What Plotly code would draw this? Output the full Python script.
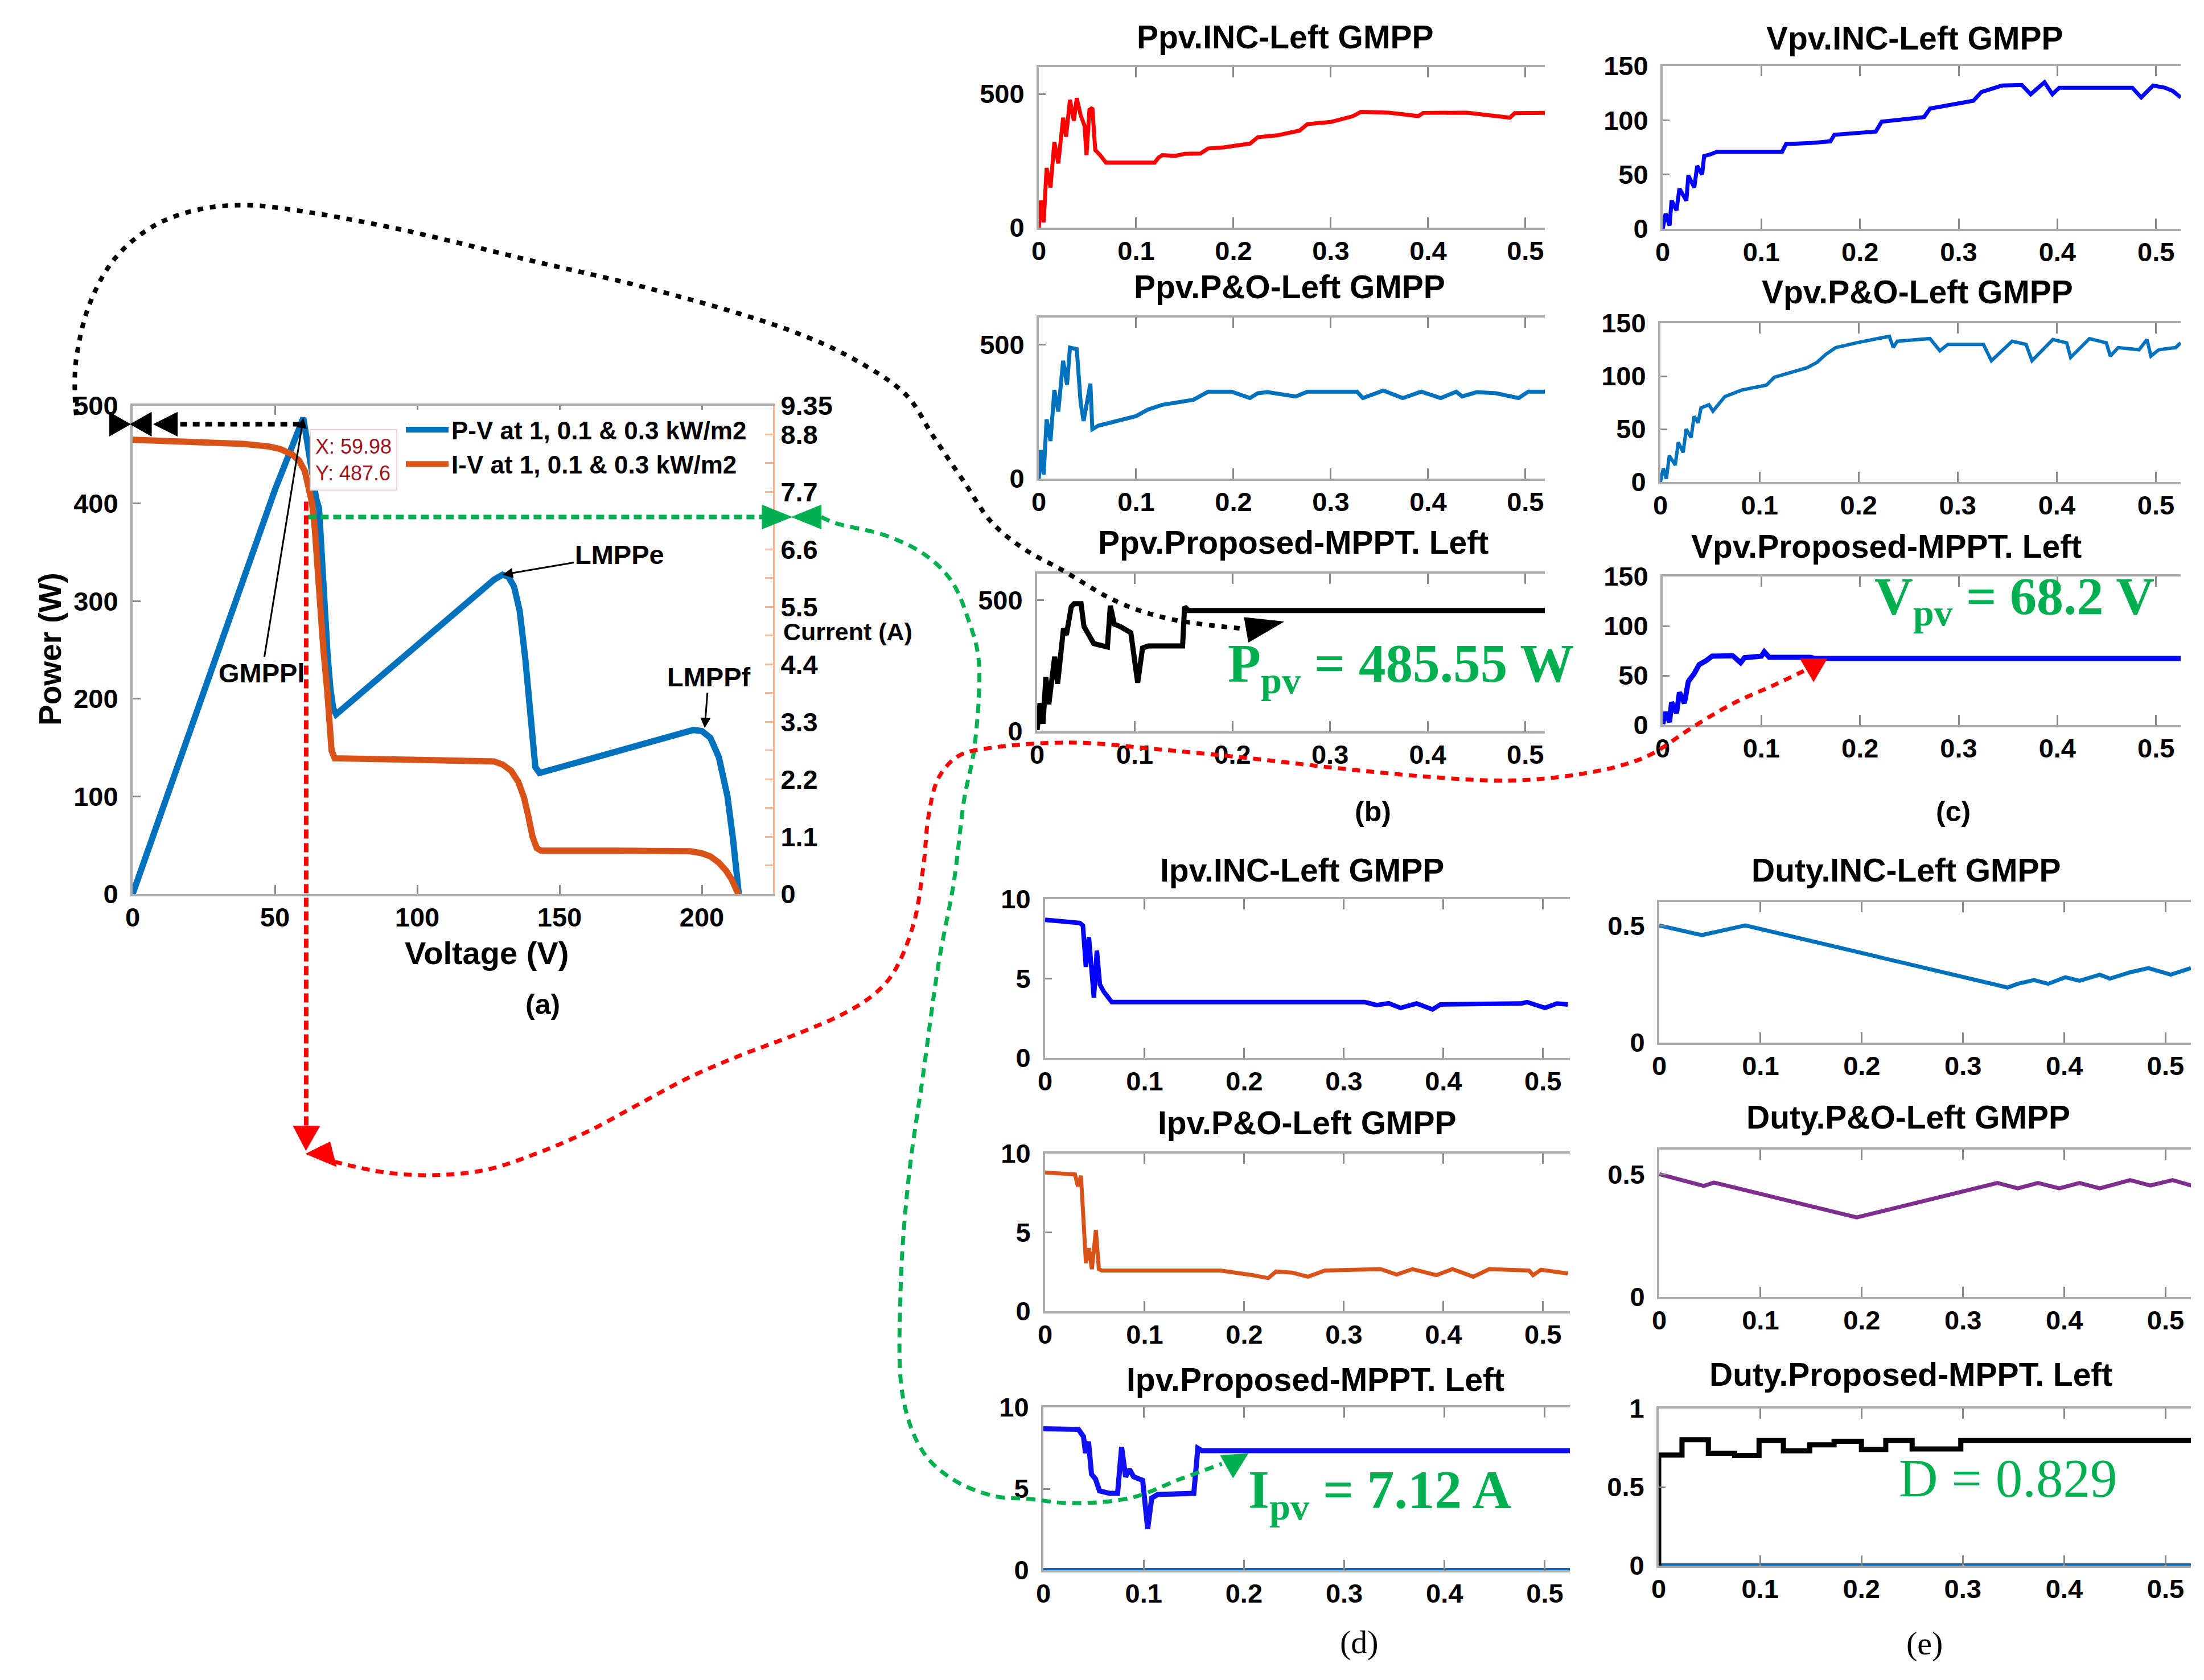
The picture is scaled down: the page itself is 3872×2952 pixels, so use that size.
import plotly.graph_objects as go

W, H = 3872, 2952

# ---------------- (a) P-V and I-V characteristic ----------------
pv_voltage = [0, 30, 50, 56, 58.5, 59.98, 61.5, 63, 64.5, 65.5, 66.5, 67.5, 68.5, 69.5, 70.5, 71.5,
              100, 120, 127, 130, 132, 134, 136, 138, 140, 141.5, 143, 170, 190, 197, 200, 203, 206, 209, 211, 212.5, 213]
pv_power = [0, 250, 414, 458, 478, 487.6, 460, 430, 405, 395, 340, 290, 245, 210, 190, 184,
            255, 304, 322, 327, 325, 315, 290, 240, 170, 130, 124, 146, 162, 168, 167, 160, 140, 100, 55, 5, 0]
iv_voltage = [0, 20, 39, 48, 52, 56, 58.5, 60.5, 62, 63, 64, 65.3, 67, 68.4, 69.9, 71, 100, 122.8, 127, 130,
              133, 135.5, 137.5, 139, 140.5, 142, 143.5, 170, 196, 200, 203, 206, 208.5, 210.5, 212.8]
iv_current = [8.70, 8.67, 8.62, 8.57, 8.52, 8.42, 8.30, 8.10, 7.80, 7.50, 7.00, 5.85, 4.70, 3.88, 2.75, 2.60, 2.58,
              2.57, 2.54, 2.48, 2.36, 2.15, 1.85, 1.50, 1.10, 0.88, 0.83, 0.83, 0.82, 0.78, 0.72, 0.60, 0.45, 0.28, 0.0]
gmpp_point = (59.98, 487.6)
lmppe_point = (130, 327)
lmppf_point = (201, 170)
voltage_ticks = [0, 50, 100, 150, 200]
power_ticks = [0, 100, 200, 300, 400, 500]
current_tick_vals = [0, 0.55, 1.1, 1.65, 2.2, 2.75, 3.3, 3.85, 4.4, 4.95, 5.5, 6.05, 6.6, 7.15, 7.7, 8.25, 8.8, 9.35]
current_tick_text = ['0', '', '1.1', '', '2.2', '', '3.3', '', '4.4', '', '5.5', '', '6.6', '', '7.7', '', '8.8', '9.35']

# ---------------- (b) PV power ----------------
t_ppv_inc = [0, 0.002, 0.005, 0.008, 0.012, 0.016, 0.020, 0.025, 0.028, 0.032, 0.036, 0.039, 0.043, 0.047, 0.049,
             0.052, 0.055, 0.058, 0.063, 0.069, 0.119, 0.123, 0.127, 0.140, 0.150, 0.166, 0.174, 0.190, 0.205, 0.217,
             0.225, 0.245, 0.268, 0.276, 0.300, 0.323, 0.331, 0.360, 0.390, 0.395, 0.440, 0.484, 0.489, 0.52]
ppv_inc = [0, 101, 20, 223, 150, 320, 240, 411, 340, 478, 400, 484, 420, 381, 271,
           440, 448, 290, 271, 243, 243, 262, 271, 268, 276, 277, 296, 300, 308, 314,
           338, 345, 363, 387, 395, 417, 433, 430, 417, 429, 430, 411, 428, 429]
t_ppv_po = [0, 0.002, 0.005, 0.008, 0.012, 0.016, 0.020, 0.025, 0.029, 0.032, 0.039, 0.043, 0.046, 0.049, 0.053,
            0.055, 0.061, 0.100, 0.112, 0.127, 0.159, 0.174, 0.198, 0.217, 0.225, 0.235, 0.264, 0.276, 0.327, 0.333,
            0.354, 0.374, 0.393, 0.413, 0.429, 0.435, 0.450, 0.470, 0.493, 0.503, 0.52]
ppv_po = [0, 106, 15, 221, 140, 330, 250, 439, 350, 488, 482, 282, 215, 282, 354,
          184, 197, 233, 257, 275, 294, 324, 324, 300, 318, 322, 306, 324, 324, 300,
          328, 300, 324, 300, 324, 306, 322, 318, 300, 324, 324]
t_ppv_prop = [0, 0.003, 0.006, 0.009, 0.012, 0.018, 0.021, 0.027, 0.030, 0.035, 0.038, 0.045, 0.048, 0.054,
              0.058, 0.072, 0.075, 0.079, 0.085, 0.096, 0.103, 0.108, 0.114, 0.149, 0.151, 0.155, 0.522]
ppv_prop = [5, 107, 29, 206, 103, 284, 181, 391, 367, 474, 486, 486, 399, 362,
            334, 321, 478, 408, 399, 375, 185, 317, 325, 325, 474, 460, 460]

# ---------------- (c) PV voltage ----------------
t_vpv_inc = [0, 0.003, 0.007, 0.009, 0.014, 0.017, 0.024, 0.026, 0.032, 0.035, 0.040, 0.042, 0.048, 0.055, 0.121,
             0.125, 0.150, 0.170, 0.174, 0.216, 0.222, 0.265, 0.271, 0.315, 0.323, 0.344, 0.364, 0.373, 0.387,
             0.395, 0.402, 0.476, 0.485, 0.497, 0.509, 0.517, 0.525]
vpv_inc = [0, 14, 3, 26, 17, 37, 26, 49, 38, 58, 50, 67, 68.5, 71, 71,
           78, 79, 80.6, 86.6, 89.6, 98.7, 103, 110.8, 118, 126, 132, 132.5, 124, 135,
           124, 130, 130, 121, 132, 130, 127, 121]
t_vpv_po = [0, 0.003, 0.006, 0.009, 0.015, 0.018, 0.023, 0.026, 0.031, 0.034, 0.038, 0.041, 0.049, 0.053, 0.065,
            0.082, 0.107, 0.115, 0.148, 0.158, 0.167, 0.177, 0.198, 0.222, 0.231, 0.235, 0.239, 0.272, 0.282,
            0.290, 0.326, 0.334, 0.355, 0.369, 0.375, 0.396, 0.410, 0.414, 0.433, 0.450, 0.454, 0.462, 0.483,
            0.491, 0.495, 0.503, 0.520, 0.525]
vpv_po = [0, 13, 3, 25, 16, 37.6, 28, 50, 42, 62, 56, 70, 73, 67, 80.7,
          86.9, 91.5, 99, 108, 113, 120.7, 127, 131.5, 136, 137.7, 127, 133, 135.5, 124,
          130, 130, 114.6, 133, 130, 114.6, 134.6, 131.5, 117.7, 135.5, 131.5, 119, 127, 125,
          134.6, 119, 125, 127, 131.5]
t_vpv_prop = [0, 0.003, 0.007, 0.009, 0.014, 0.017, 0.022, 0.026, 0.032, 0.037, 0.044, 0.050, 0.071, 0.079,
              0.083, 0.100, 0.103, 0.108, 0.150, 0.154, 0.525]
vpv_prop = [1, 13, 3, 23, 12, 33, 22, 44, 52, 61, 65, 69.5, 70, 63,
            68, 69.5, 74, 68.4, 68.4, 67.3, 67.3]

# ---------------- (d) PV current ----------------
t_ipv_inc = [0, 0.035, 0.038, 0.041, 0.044, 0.047, 0.049, 0.052, 0.055, 0.059, 0.067, 0.321, 0.333, 0.345,
             0.357, 0.373, 0.389, 0.397, 0.478, 0.484, 0.502, 0.514, 0.525]
ipv_inc = [8.7, 8.5, 8.33, 5.74, 7.6, 5.74, 3.8, 6.76, 4.63, 4.17, 3.52, 3.52, 3.33, 3.45,
           3.15, 3.43, 3.06, 3.37, 3.43, 3.52, 3.15, 3.43, 3.37]
t_ipv_po = [0, 0.030, 0.033, 0.036, 0.039, 0.041, 0.044, 0.047, 0.051, 0.054, 0.057, 0.176, 0.208, 0.224, 0.232,
            0.248, 0.264, 0.281, 0.337, 0.353, 0.369, 0.393, 0.409, 0.430, 0.446, 0.486, 0.490, 0.498, 0.525]
ipv_po = [8.8, 8.68, 7.92, 8.59, 5.34, 3.05, 4.0, 2.67, 5.15, 2.67, 2.58, 2.58, 2.29, 2.1, 2.52,
          2.45, 2.19, 2.58, 2.67, 2.33, 2.67, 2.29, 2.67, 2.19, 2.67, 2.58, 2.29, 2.63, 2.39]
t_ipv_prop = [0, 0.035, 0.040, 0.042, 0.045, 0.048, 0.052, 0.056, 0.066, 0.074, 0.078, 0.082, 0.086, 0.090,
              0.099, 0.104, 0.108, 0.114, 0.150, 0.154, 0.158, 0.525]
ipv_prop = [8.69, 8.65, 8.2, 7.2, 7.9, 5.9, 5.6, 4.87, 4.72, 4.72, 7.56, 5.74, 6.18, 5.74,
            5.52, 2.54, 4.43, 4.65, 4.72, 7.49, 7.34, 7.34]

# ---------------- (e) duty cycle ----------------
t_duty_inc = [0, 0.042, 0.085, 0.344, 0.354, 0.370, 0.384, 0.401, 0.415, 0.435, 0.445, 0.465, 0.483, 0.505, 0.525]
duty_inc = [0.5, 0.459, 0.5, 0.235, 0.251, 0.267, 0.251, 0.279, 0.264, 0.29, 0.273, 0.30, 0.318, 0.29, 0.318]
t_duty_po = [0, 0.044, 0.054, 0.195, 0.334, 0.354, 0.374, 0.395, 0.415, 0.435, 0.465, 0.485, 0.507, 0.527]
duty_po = [0.5, 0.452, 0.466, 0.324, 0.464, 0.442, 0.464, 0.442, 0.464, 0.442, 0.476, 0.454, 0.476, 0.452]
t_duty_prop = [0, 0, 0.023, 0.049, 0.075, 0.099, 0.123, 0.149, 0.173, 0.200, 0.224, 0.250, 0.298, 0.525]
duty_prop = [0, 0.704, 0.802, 0.716, 0.701, 0.796, 0.731, 0.769, 0.792, 0.739, 0.796, 0.743, 0.796, 0.796]
t_baseline = [0, 0.525]
baseline = [0, 0]

time_ticks = [0, 0.1, 0.2, 0.3, 0.4, 0.5]
time_tick_text = ['0', '0.1', '0.2', '0.3', '0.4', '0.5']

# ---------------- connector curves (drawn in a 1568x1195 overlay frame) ----------------
black_curve_x = [51, 50, 51, 60.5, 79, 107, 139.5, 172, 209, 279, 372, 465, 558, 604.5, 641.7, 660, 683.6, 702, 725, 752, 792, 829, 882]
black_curve_y = [292, 276, 252, 213, 180, 157, 145.5, 142.7, 146.6, 159.4, 181.5, 203.6, 231.5, 252.4, 278, 306, 341, 368, 387, 402, 425, 437, 444]
green_curve_x = [581, 590.6, 627.8, 655.7, 674, 686, 693, 690, 682.7, 675.5, 664.6, 653.8, 643, 637.5, 639.3, 653.8, 675.5, 704.4, 729, 759, 802, 836, 866]
green_curve_y = [364.5, 368.7, 378, 392, 410.5, 438.4, 466, 528.4, 565.3, 623.4, 681.5, 759, 836.5, 914, 991.5, 1030, 1049.6, 1061, 1063, 1066, 1062, 1049, 1038]
red_curve_x = [234.3, 270.5, 306.6, 342.8, 379, 415, 451, 487.4, 523.6, 559.8, 596, 617.6, 632, 646.6, 653.8, 657.4, 664.6, 679, 704.4,
               761, 823, 885, 947, 1009, 1071, 1117, 1151, 1172, 1201, 1230, 1259, 1280]
red_curve_y = [823, 830.7, 832.6, 828.8, 817, 801.6, 782.3, 763, 747.4, 733.8, 718.3, 704.8, 689.3, 654.4, 611.8, 576.9, 549.8, 534.3, 528.4,
               525, 530, 536, 543, 549, 552, 548, 541, 533, 514, 497, 484, 474]

fig = go.Figure()

AXC = '#ABABAB'
TKC = '#8A8A8A'
SANS = 'Liberation Sans, Arial, sans-serif'
SERIF = 'Liberation Serif, Times New Roman, serif'
TF = dict(family=SANS, size=47, color='black', weight='bold')


def dom(x0, x1, y0, y1):
    return [x0 / W, x1 / W], [1 - y1 / H, 1 - y0 / H]


def note(text, xpx, ypx, font, **kw):
    d = dict(text=text, x=xpx / W, y=1 - ypx / H, xref='paper', yref='paper', showarrow=False,
             xanchor='center', yanchor='middle', font=font)
    d.update(kw)
    return d


layout = dict(width=W, height=H, margin=dict(l=0, r=0, t=0, b=0, pad=0), paper_bgcolor='white',
              plot_bgcolor='rgba(0,0,0,0)', font=dict(family=SANS, color='black'))
annotations = []

# ---- panel (a) axes ----
dx, dy = dom(225, 1350, 705, 1563)
layout['xaxis'] = dict(domain=dx, range=[0, 225], anchor='y', showline=True, linecolor=AXC, linewidth=4,
                       mirror='ticks', ticks='inside', ticklen=16, tickwidth=3, tickcolor=TKC,
                       tickvals=voltage_ticks, tickfont=TF, showgrid=False, zeroline=False,
                       ticklabelstandoff=-3, automargin=False)
layout['yaxis'] = dict(domain=dy, range=[0, 500], anchor='x', showline=True, linecolor=AXC, linewidth=4,
                       ticks='inside', ticklen=14, tickwidth=3, tickcolor=TKC, tickvals=power_ticks,
                       tickfont=TF, showgrid=False, zeroline=False, ticklabelstandoff=12, automargin=False)
layout['yaxis14'] = dict(overlaying='y', side='right', anchor='x', range=[0, 9.35], showline=True,
                         linecolor='#F4B99B', linewidth=4, ticks='inside', ticklen=14, tickwidth=3,
                         tickcolor='#F4B99B', tickvals=current_tick_vals, ticktext=current_tick_text,
                         tickfont=TF, showgrid=False, zeroline=False, ticklabelstandoff=0, automargin=False)

fig.add_trace(go.Scatter(x=pv_voltage, y=pv_power, mode='lines', xaxis='x', yaxis='y',
                         line=dict(color='#0072BD', width=11), name='P-V at 1, 0.1 & 0.3 kW/m2'))
fig.add_trace(go.Scatter(x=iv_voltage, y=iv_current, mode='lines', xaxis='x', yaxis='y14',
                         line=dict(color='#D95319', width=11), name='I-V at 1, 0.1 & 0.3 kW/m2'))

annotations += [
    note('Voltage (V)', 847, 1666, dict(size=56, weight='bold')),
    note('Power (W)', 80, 1133, dict(size=55, weight='bold'), textangle=-90),
    note('Current (A)', 1481, 1102, dict(size=43, weight='bold')),
    note('X: 59.98<br>Y: 487.6', 613, 800, dict(size=36, color='#A0141E'), align='left', bgcolor='white',
         bordercolor='#F2D4D4', borderwidth=2, borderpad=8),
    dict(text='GMPPl', x=gmpp_point[0], y=gmpp_point[1], xref='x', yref='y', ax=-73, ay=448,
         showarrow=True, arrowhead=2, arrowsize=1.2, arrowwidth=3, arrowcolor='black',
         font=dict(size=47, weight='bold')),
    dict(text='LMPPe', x=lmppe_point[0], y=lmppe_point[1], xref='x', yref='y', ax=205, ay=-35,
         showarrow=True, arrowhead=2, arrowsize=1.2, arrowwidth=3, arrowcolor='black',
         font=dict(size=47, weight='bold')),
    dict(text='LMPPf', x=lmppf_point[0], y=lmppf_point[1], xref='x', yref='y', ax=7, ay=-90,
         showarrow=True, arrowhead=2, arrowsize=1.2, arrowwidth=3, arrowcolor='black',
         font=dict(size=47, weight='bold')),
]

# ---- small panels ----
panels = [
    dict(t=t_ppv_inc, v=ppv_inc, c='#FF0000', w=7, box=(1817, 2706, 110, 392), xr=[0, 0.52], yr=[0, 600],
         yt=[0, 500], title='Ppv.INC-Left GMPP', tx=2249, ty=66),
    dict(t=t_ppv_po, v=ppv_po, c='#0072BD', w=7, box=(1817, 2706, 550, 833), xr=[0, 0.52], yr=[0, 600],
         yt=[0, 500], title='Ppv.P&O-Left GMPP', tx=2257, ty=505),
    dict(t=t_ppv_prop, v=ppv_prop, c='black', w=9, box=(1814, 2706, 1000, 1277), xr=[0, 0.52], yr=[0, 600],
         yt=[0, 500], title='Ppv.Proposed-MPPT. Left', tx=2264, ty=954),
    dict(t=t_vpv_inc, v=vpv_inc, c='#0000FF', w=7, box=(2913, 3823, 108, 394), xr=[0, 0.525], yr=[0, 150],
         yt=[0, 50, 100, 150], title='Vpv.INC-Left GMPP', tx=3355, ty=68),
    dict(t=t_vpv_po, v=vpv_po, c='#0072BD', w=6, box=(2909, 3823, 560, 839), xr=[0, 0.525], yr=[0, 150],
         yt=[0, 50, 100, 150], title='Vpv.P&O-Left GMPP', tx=3360, ty=514),
    dict(t=t_vpv_prop, v=vpv_prop, c='#0000FF', w=9, box=(2913, 3823, 1005, 1266), xr=[0, 0.525], yr=[0, 150],
         yt=[0, 50, 100, 150], title='Vpv.Proposed-MPPT. Left', tx=3306, ty=961),
    dict(t=t_ipv_inc, v=ipv_inc, c='#0000FF', w=8, box=(1828, 2750, 1572, 1851), xr=[0, 0.527], yr=[0, 10],
         yt=[0, 5, 10], title='Ipv.INC-Left GMPP', tx=2279, ty=1530),
    dict(t=t_ipv_po, v=ipv_po, c='#D95319', w=7, box=(1828, 2750, 2019, 2296), xr=[0, 0.527], yr=[0, 10],
         yt=[0, 5, 10], title='Ipv.P&O-Left GMPP', tx=2288, ty=1974),
    dict(t=t_ipv_prop, v=ipv_prop, c='#1010F0', w=9, box=(1825, 2750, 2465, 2751), xr=[0, 0.525], yr=[0, 10],
         yt=[0, 5, 10], title='Ipv.Proposed-MPPT. Left', tx=2303, ty=2425, base=True),
    dict(t=t_duty_inc, v=duty_inc, c='#0072BD', w=7, box=(2907, 3841, 1577, 1824), xr=[0, 0.525], yr=[0, 0.6],
         yt=[0, 0.5], title='Duty.INC-Left GMPP', tx=3341, ty=1530),
    dict(t=t_duty_po, v=duty_po, c='#7E2F8E', w=7, box=(2907, 3841, 2012, 2271), xr=[0, 0.525], yr=[0, 0.6],
         yt=[0, 0.5], title='Duty.P&O-Left GMPP', tx=3344, ty=1964),
    dict(t=t_duty_prop, v=duty_prop, c='black', w=9, box=(2906, 3841, 2467, 2743), xr=[0, 0.525], yr=[0, 1],
         yt=[0, 0.5, 1], title='Duty.Proposed-MPPT. Left', tx=3349, ty=2416, base=True, shape='hv'),
]

for i, p in enumerate(panels):
    k = i + 2
    dx, dy = dom(*p['box'])
    layout[f'xaxis{k}'] = dict(domain=dx, range=p['xr'], anchor=f'y{k}', showline=True, linecolor=AXC,
                               linewidth=4, mirror='ticks', ticks='inside', ticklen=18, tickwidth=3,
                               tickcolor=TKC, tickvals=time_ticks, ticktext=time_tick_text, tickfont=TF,
                               showgrid=False, zeroline=False, ticklabelstandoff=-3, automargin=False)
    layout[f'yaxis{k}'] = dict(domain=dy, range=p['yr'], anchor=f'x{k}', showline=True, linecolor=AXC,
                               linewidth=4, ticks='inside', ticklen=12, tickwidth=3, tickcolor=TKC,
                               tickvals=p['yt'], tickfont=TF, showgrid=False, zeroline=False,
                               ticklabelstandoff=12, automargin=False)
    if p.get('base'):
        fig.add_trace(go.Scatter(x=t_baseline, y=baseline, mode='lines', xaxis=f'x{k}', yaxis=f'y{k}',
                                 line=dict(color='#1A63A8', width=8), showlegend=False, hoverinfo='skip'))
    fig.add_trace(go.Scatter(x=p['t'], y=p['v'], mode='lines', xaxis=f'x{k}', yaxis=f'y{k}',
                             line=dict(color=p['c'], width=p['w'], shape=p.get('shape', 'linear')),
                             showlegend=False, hoverinfo='skip'))
    annotations.append(note(p['title'], p['tx'], p['ty'] - 9, dict(size=57, weight='bold')))

# ---- green value call-outs and panel letters ----
GREEN = '#00B050'
annotations += [
    note('P<sub>pv</sub> = 485.55 W', 2453, 1164, dict(family=SERIF, size=95, color=GREEN, weight='bold')),
    note('V<sub>pv</sub> = 68.2 V', 3531, 1046, dict(family=SERIF, size=94, color=GREEN, weight='bold')),
    note('I<sub>pv</sub> = 7.12 A', 2416, 2616, dict(family=SERIF, size=95, color=GREEN, weight='bold')),
    note('D = 0.829', 3519, 2590, dict(family=SERIF, size=95, color=GREEN)),
    note('(a)', 945, 1757, dict(size=50, weight='bold')),
    note('(b)', 2404, 1418, dict(size=50, weight='bold')),
    note('(c)', 3423, 1418, dict(size=50, weight='bold')),
    note('(d)', 2380, 2877, dict(family=SERIF, size=58)),
    note('(e)', 3373, 2879, dict(family=SERIF, size=58)),
]

# ---- overlay frame for the connector arrows ----
layout['xaxis15'] = dict(domain=[0, 1], range=[0, 1568], anchor='y15', visible=False, fixedrange=True)
layout['yaxis15'] = dict(domain=[0, 1], range=[1195, 0], anchor='x15', visible=False, fixedrange=True)


def ov_line(xs, ys, color, width, dash, spline=True):
    fig.add_trace(go.Scatter(x=xs, y=ys, mode='lines', xaxis='x15', yaxis='y15', hoverinfo='skip',
                             showlegend=False,
                             line=dict(color=color, width=width, dash=dash,
                                       shape='spline' if spline else 'linear', smoothing=1.0)))


def ov_tri(pts, color):
    xs = [q[0] for q in pts] + [pts[0][0]]
    ys = [q[1] for q in pts] + [pts[0][1]]
    fig.add_trace(go.Scatter(x=xs, y=ys, mode='lines', xaxis='x15', yaxis='y15', fill='toself',
                             fillcolor=color, line=dict(color=color, width=1), hoverinfo='skip',
                             showlegend=False))


# black: GMPP power carried to proposed Ppv
ov_line([125, 211.6], [298.5, 298.5], 'black', 8, '12px,10px', spline=False)
ov_line(black_curve_x, black_curve_y, 'black', 8, '10px,12px')
ov_tri([(106, 298.5), (123, 290), (123, 307)], 'black')
ov_tri([(74.6, 290), (74.6, 307), (89.5, 298.5)], 'black')
ov_tri([(89.5, 298.5), (104.5, 290), (104.5, 307)], 'black')
ov_tri([(910, 439), (882, 436), (885, 453.6)], 'black')

# green: GMPP current carried to proposed Ipv
ov_line([216, 540], [364.5, 364.5], '#00B050', 8, '14px,8px', spline=False)
ov_line(green_curve_x, green_curve_y, '#00B050', 7, '16px,11px')
ov_tri([(539, 356), (539, 373), (560, 364.5)], '#00B050')
ov_tri([(560, 364.5), (581, 356), (581, 373)], '#00B050')
ov_tri([(884.6, 1030.8), (865, 1032), (874, 1048)], '#00B050')

# red: GMPP voltage carried to proposed Vpv
ov_line([214.6, 214.6], [353.6, 800], '#FF0000', 8, '16px,8px', spline=False)
ov_line(red_curve_x, red_curve_y, '#FF0000', 7, '14px,11px')
ov_tri([(214.4, 815), (205.4, 797.8), (224.2, 797.8)], '#FF0000')
ov_tri([(214.4, 817.5), (231.5, 809), (236, 826.5)], '#FF0000')
ov_tri([(1296.5, 465.4), (1277.5, 465.4), (1287, 481.6)], '#FF0000')

layout['annotations'] = annotations
layout['showlegend'] = True
layout['legend'] = dict(x=700 / W, y=1 - 712 / H, xanchor='left', yanchor='top', bgcolor='white',
                        borderwidth=0, font=dict(size=44, weight='bold', color='black'),
                        itemwidth=75, tracegroupgap=0)
fig.update_layout(**layout)

fig.write_html('out.html')
